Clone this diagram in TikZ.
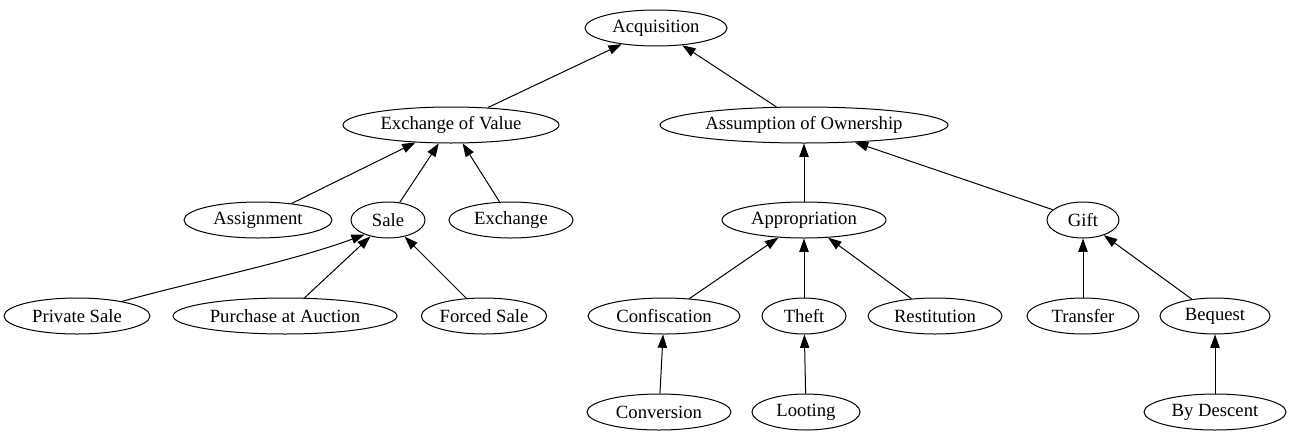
\documentclass[tikz,border=0pt]{standalone}
\usepackage{fontspec}
\setmainfont{Liberation Serif}
\usetikzlibrary{shapes.geometric,arrows.meta}
\begin{document}
\begin{tikzpicture}[x=0.75pt,y=-0.75pt,
  el/.style={ellipse,draw,line width=0.75pt,minimum height=27pt,inner sep=0pt,font=\fontsize{14}{17}\selectfont},
  wd/.style={minimum width=#1*1.5pt},
  edge/.style={draw,line width=0.75pt,-{Triangle[length=10pt,width=7pt]}}]
\useasboundingbox (0,0) rectangle (1291,443);
\node[el,wd=71] (acq) at (656,28) {Acquisition};
\node[el,wd=108] (eov) at (451,125) {Exchange of Value};
\node[el,wd=144] (aoo) at (804,125) {Assumption of Ownership};
\node[el,wd=74] (asg) at (258,220) {Assignment};
\node[el,wd=37] (sale) at (388,220) {Sale};
\node[el,wd=62] (exc) at (511,220) {Exchange};
\node[el,wd=82] (app) at (804,220) {Appropriation};
\node[el,wd=36] (gift) at (1083,220) {Gift};
\node[el,wd=73] (ps) at (77,316) {Private Sale};
\node[el,wd=112] (paa) at (285,316) {Purchase at Auction};
\node[el,wd=62] (fs) at (484,316) {Forced Sale};
\node[el,wd=76] (conf) at (664,316) {Confiscation};
\node[el,wd=42] (theft) at (804,316) {Theft};
\node[el,wd=67] (rest) at (935,316) {Restitution};
\node[el,wd=56] (tr) at (1083,316) {Transfer};
\node[el,wd=55] (beq) at (1215,316) {Bequest};
\node[el,wd=72] (conv) at (659,412) {Conversion};
\node[el,wd=54] (loot) at (806,412) {Looting};
\node[el,wd=71] (bd) at (1215,412) {By Descent};
\draw[edge] (eov) -- (acq);
\draw[edge] (aoo) -- (acq);
\draw[edge] (asg) -- (eov);
\draw[edge] (sale) -- (eov);
\draw[edge] (exc) -- (eov);
\draw[edge] (app) -- (aoo);
\draw[edge] (gift) -- (aoo);
\draw[edge] (ps.18) .. controls (200,280) and (290,262) .. (sale.212);
\draw[edge] (paa) -- (sale);
\draw[edge] (fs) -- (sale);
\draw[edge] (conf) -- (app);
\draw[edge] (theft) -- (app);
\draw[edge] (rest) -- (app);
\draw[edge] (tr) -- (gift);
\draw[edge] (beq) -- (gift);
\draw[edge] (conv) -- (conf);
\draw[edge] (loot) -- (theft);
\draw[edge] (bd) -- (beq);
\end{tikzpicture}
\end{document}
